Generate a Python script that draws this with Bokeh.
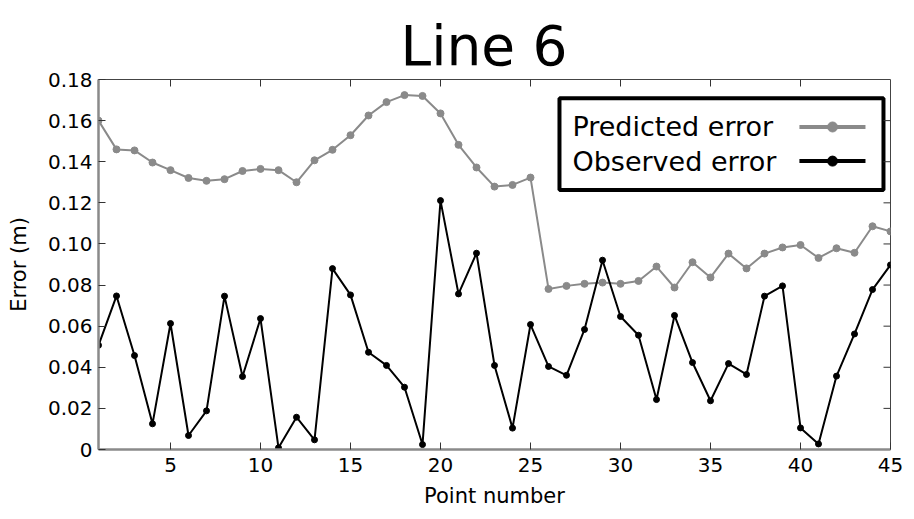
from bokeh.plotting import figure
from bokeh.models import (FixedTicker, CustomJSTickFormatter, Range1d, BoxAnnotation, Label,
                          LinearAxis)
from bokeh.embed import file_html
from bokeh.resources import INLINE

points = list(range(1, 46))
predicted = [0.160, 0.146, 0.1455, 0.1396, 0.1359, 0.1321, 0.1307, 0.1315, 0.1355, 0.1365,
             0.1359, 0.1300, 0.1407, 0.1458, 0.1529, 0.1625, 0.1690, 0.1724, 0.1720, 0.1635,
             0.1482, 0.1372, 0.1279, 0.1287, 0.1323, 0.0781, 0.0796, 0.0806, 0.0812, 0.0806,
             0.0820, 0.0890, 0.0788, 0.0911, 0.0837, 0.0953, 0.0881, 0.0953, 0.0983, 0.0995,
             0.0932, 0.0979, 0.0957, 0.1086, 0.1061]
observed = [0.0507, 0.0747, 0.0457, 0.0125, 0.0613, 0.0068, 0.0188, 0.0746, 0.0355, 0.0637,
            0.0008, 0.0157, 0.0047, 0.0880, 0.0752, 0.0473, 0.0409, 0.0303, 0.0024, 0.1211,
            0.0757, 0.0955, 0.0409, 0.0104, 0.0608, 0.0404, 0.0361, 0.0584, 0.0921, 0.0647,
            0.0556, 0.0243, 0.0652, 0.0423, 0.0237, 0.0418, 0.0365, 0.0746, 0.0796, 0.0105,
            0.0027, 0.0357, 0.0562, 0.0778, 0.0898]
x_ticks = [5, 10, 15, 20, 25, 30, 35, 40, 45]
y_ticks = [0, 0.02, 0.04, 0.06, 0.08, 0.10, 0.12, 0.14, 0.16, 0.18]
series_names = ["Predicted error", "Observed error"]
title_text = "Line 6"

FONT = "DejaVu Sans"
GRAY = "#8a8a8a"
X0, X1, Y0, Y1 = 1, 45, 0, 0.18
FRAME_W, FRAME_H = 792, 370
TICK_PX = 7

p = figure(width=914, height=519, output_backend="svg", toolbar_location=None,
           x_range=Range1d(X0, X1), y_range=Range1d(Y0, Y1),
           min_border_left=98, min_border_right=24, min_border_top=79, min_border_bottom=70)
p.xgrid.visible = False
p.ygrid.visible = False
p.outline_line_color = "#444444"
p.outline_line_width = 1
p.background_fill_color = "white"
p.border_fill_color = "white"

xa = p.below[0]
ya = p.left[0]

# empty spacer axis between the frame and the title (no ticks, no labels)
spacer = LinearAxis(ticker=FixedTicker(ticks=[]), major_tick_out=12, major_tick_in=0,
                    minor_tick_out=0, minor_tick_in=0, axis_line_color=None,
                    major_tick_line_color=None, minor_tick_line_color=None,
                    major_label_standoff=0)
p.add_layout(spacer, "above")

p.title.text = title_text
p.title.text_font = FONT
p.title.text_font_size = "55px"
p.title.text_font_style = "normal"
p.title.text_color = "black"
p.title.align = "left"
p.title.offset = 302
p.title.vertical_align = "top"
p.title.standoff = 0

def style_axis(ax):
    ax.major_tick_in = TICK_PX
    ax.major_tick_out = 0
    ax.minor_tick_line_color = None
    ax.major_tick_line_color = "#333333"
    ax.major_tick_line_width = 1
    ax.axis_line_color = GRAY
    ax.axis_line_width = 2.5
    ax.major_label_text_font = FONT
    ax.major_label_text_font_size = "20px"
    ax.major_label_text_color = "black"
    ax.axis_label_text_font = FONT
    ax.axis_label_text_font_size = "21px"
    ax.axis_label_text_font_style = "normal"
    ax.axis_label_text_color = "black"

xa.ticker = FixedTicker(ticks=x_ticks)
style_axis(xa)
xa.major_label_standoff = 8
xa.axis_label = "Point number"
xa.axis_label_standoff = 9

ya.ticker = FixedTicker(ticks=y_ticks)
ya.formatter = CustomJSTickFormatter(code="return tick == 0 ? '0' : tick.toFixed(2);")
style_axis(ya)
ya.major_label_standoff = 6
ya.axis_label = "Error (m)"
ya.axis_label_standoff = 14

# inward tick marks on the top and right frame edges
dy_tick = TICK_PX * (Y1 - Y0) / FRAME_H
dx_tick = TICK_PX * (X1 - X0) / FRAME_W
top_x = [t for t in x_ticks if t < X1]
p.segment(x0=top_x, y0=[Y1] * len(top_x), x1=top_x, y1=[Y1 - dy_tick] * len(top_x),
          line_color="#333333", line_width=1)
right_y = [t for t in y_ticks if Y0 < t < Y1]
p.segment(x0=[X1] * len(right_y), y0=right_y, x1=[X1 - dx_tick] * len(right_y), y1=right_y,
          line_color="#333333", line_width=1)

p.line(points, predicted, line_color=GRAY, line_width=2)
p.scatter(points, predicted, size=7, fill_color=GRAY, line_color=GRAY)
p.line(points, observed, line_color="black", line_width=2)
p.scatter(points, observed, size=6, fill_color="black", line_color="black")

# legend (text first, sample after, as in the reference)
LEG_LEFT, LEG_RIGHT, LEG_BOTTOM, LEG_TOP = 26.61, 44.61, 0.1262, 0.1709
LEG_TEXT_X = 27.33
LEG_ROWS_Y = [0.1569, 0.1403]
LEG_SAMPLE_X = [39.94, 43.61]
LEG_MARK_X = 41.78
box = BoxAnnotation(left=LEG_LEFT, right=LEG_RIGHT, bottom=LEG_BOTTOM, top=LEG_TOP,
                    fill_color="white", fill_alpha=1, line_color="black", line_alpha=1,
                    line_width=4, level="underlay")
p.add_layout(box)

for name, yv, col in zip(series_names, LEG_ROWS_Y, [GRAY, "black"]):
    p.add_layout(Label(x=LEG_TEXT_X, y=yv, text=name, text_font=FONT, text_font_size="27px",
                       text_baseline="middle", text_align="left", text_color="black"))
    p.line(LEG_SAMPLE_X, [yv, yv], line_color=col, line_width=4)
    p.scatter([LEG_MARK_X], [yv], size=10, fill_color=col, line_color=col)

open("out.html", "w").write(file_html(p, INLINE))
